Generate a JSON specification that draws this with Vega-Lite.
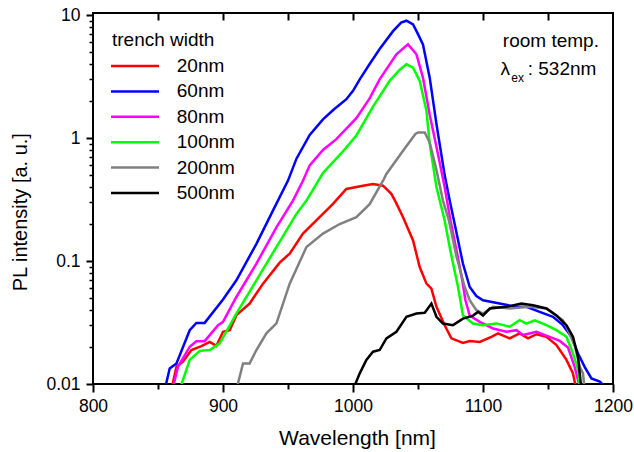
{
"$schema": "https://vega.github.io/schema/vega-lite/v6.json",
"width": 520, "height": 371,
"autosize": "none",
"padding": {"left": 93, "top": 13, "right": 21, "bottom": 68},
"background": "white",
"config": {
  "view": {"stroke": "black", "strokeWidth": 2},
  "font": "Liberation Sans",
  "axis": {"labelFont": "Liberation Sans", "titleFont": "Liberation Sans", "labelColor": "black", "titleColor": "black", "grid": false, "titleFontWeight": "normal"}
},
"resolve": {"axis": {"x": "independent", "y": "independent"}},
"datasets": {
 "pl": [
  {"s":"20nm","wl":860.3,"v":0.009},{"s":"20nm","wl":864.2,"v":0.0138},{"s":"20nm","wl":869.2,"v":0.0152},{"s":"20nm","wl":875.7,"v":0.0189},{"s":"20nm","wl":883.4,"v":0.0203},{"s":"20nm","wl":889.8,"v":0.022},{"s":"20nm","wl":894.9,"v":0.0204},{"s":"20nm","wl":900,"v":0.0266},{"s":"20nm","wl":905.2,"v":0.0274},{"s":"20nm","wl":910.3,"v":0.0363},{"s":"20nm","wl":920.5,"v":0.0451},{"s":"20nm","wl":930.8,"v":0.0655},{"s":"20nm","wl":943.6,"v":0.097},{"s":"20nm","wl":951.3,"v":0.115},{"s":"20nm","wl":961.5,"v":0.167},{"s":"20nm","wl":971.8,"v":0.214},{"s":"20nm","wl":984.6,"v":0.292},{"s":"20nm","wl":994.9,"v":0.386},{"s":"20nm","wl":1007.7,"v":0.41},{"s":"20nm","wl":1015.4,"v":0.423},{"s":"20nm","wl":1023.1,"v":0.41},{"s":"20nm","wl":1029.5,"v":0.352},{"s":"20nm","wl":1033,"v":0.30},{"s":"20nm","wl":1038.5,"v":0.227},{"s":"20nm","wl":1046.2,"v":0.147},{"s":"20nm","wl":1051.3,"v":0.0893},{"s":"20nm","wl":1056.5,"v":0.0655},{"s":"20nm","wl":1060.3,"v":0.0597},{"s":"20nm","wl":1064.2,"v":0.0424},{"s":"20nm","wl":1070.5,"v":0.03},{"s":"20nm","wl":1075.7,"v":0.0235},{"s":"20nm","wl":1084.6,"v":0.0216},{"s":"20nm","wl":1089.8,"v":0.0224},{"s":"20nm","wl":1097.5,"v":0.022},{"s":"20nm","wl":1106.5,"v":0.0242},{"s":"20nm","wl":1111.5,"v":0.0258},{"s":"20nm","wl":1120.5,"v":0.0235},{"s":"20nm","wl":1128.2,"v":0.0258},{"s":"20nm","wl":1134.6,"v":0.0235},{"s":"20nm","wl":1141.1,"v":0.0254},{"s":"20nm","wl":1148.8,"v":0.0242},{"s":"20nm","wl":1156.5,"v":0.0207},{"s":"20nm","wl":1164.2,"v":0.0157},{"s":"20nm","wl":1169.2,"v":0.0122},{"s":"20nm","wl":1171.8,"v":0.009},
  {"s":"60nm","wl":855.2,"v":0.009},{"s":"60nm","wl":859,"v":0.0134},{"s":"60nm","wl":864.2,"v":0.0147},{"s":"60nm","wl":874.4,"v":0.0274},{"s":"60nm","wl":879.5,"v":0.0314},{"s":"60nm","wl":885.9,"v":0.0314},{"s":"60nm","wl":900,"v":0.0486},{"s":"60nm","wl":910.3,"v":0.0697},{"s":"60nm","wl":925.7,"v":0.138},{"s":"60nm","wl":938.5,"v":0.258},{"s":"60nm","wl":950,"v":0.451},{"s":"60nm","wl":956.5,"v":0.68},{"s":"60nm","wl":966.7,"v":1.06},{"s":"60nm","wl":976.9,"v":1.42},{"s":"60nm","wl":985,"v":1.7},{"s":"60nm","wl":994.9,"v":2.07},{"s":"60nm","wl":1000,"v":2.42},{"s":"60nm","wl":1005.2,"v":3.0},{"s":"60nm","wl":1012.8,"v":4.0},{"s":"60nm","wl":1020.5,"v":5.3},{"s":"60nm","wl":1030.8,"v":7.4},{"s":"60nm","wl":1037,"v":8.7},{"s":"60nm","wl":1041.1,"v":9.0},{"s":"60nm","wl":1046.2,"v":8.4},{"s":"60nm","wl":1050,"v":7.0},{"s":"60nm","wl":1053.8,"v":5.78},{"s":"60nm","wl":1059,"v":3.1},{"s":"60nm","wl":1064.2,"v":1.3},{"s":"60nm","wl":1070.5,"v":0.5},{"s":"60nm","wl":1074.4,"v":0.31},{"s":"60nm","wl":1078.2,"v":0.2},{"s":"60nm","wl":1084.6,"v":0.095},{"s":"60nm","wl":1089.8,"v":0.0615},{"s":"60nm","wl":1094.9,"v":0.052},{"s":"60nm","wl":1100,"v":0.048},{"s":"60nm","wl":1112.8,"v":0.0451},{"s":"60nm","wl":1125.7,"v":0.0424},{"s":"60nm","wl":1133.4,"v":0.0424},{"s":"60nm","wl":1143.6,"v":0.0386},{"s":"60nm","wl":1153.8,"v":0.0352},{"s":"60nm","wl":1161.5,"v":0.0301},{"s":"60nm","wl":1168,"v":0.0242},{"s":"60nm","wl":1173.1,"v":0.0177},{"s":"60nm","wl":1178.2,"v":0.0138},{"s":"60nm","wl":1183.4,"v":0.0111},{"s":"60nm","wl":1189.8,"v":0.01045},{"s":"60nm","wl":1194.9,"v":0.0093},
  {"s":"80nm","wl":861.1,"v":0.009},{"s":"80nm","wl":865.4,"v":0.0138},{"s":"80nm","wl":874.4,"v":0.0201},{"s":"80nm","wl":879.5,"v":0.0223},{"s":"80nm","wl":885.9,"v":0.0223},{"s":"80nm","wl":896.2,"v":0.0301},{"s":"80nm","wl":900,"v":0.032},{"s":"80nm","wl":910.3,"v":0.051},{"s":"80nm","wl":925.7,"v":0.0953},{"s":"80nm","wl":941.1,"v":0.188},{"s":"80nm","wl":953.8,"v":0.31},{"s":"80nm","wl":961.5,"v":0.45},{"s":"80nm","wl":966.7,"v":0.6},{"s":"80nm","wl":976.9,"v":0.8},{"s":"80nm","wl":987.2,"v":0.98},{"s":"80nm","wl":1002.6,"v":1.45},{"s":"80nm","wl":1012.8,"v":2.1},{"s":"80nm","wl":1020.5,"v":3.0},{"s":"80nm","wl":1033.4,"v":4.8},{"s":"80nm","wl":1042.3,"v":5.78},{"s":"80nm","wl":1048.8,"v":4.8},{"s":"80nm","wl":1053.8,"v":3.1},{"s":"80nm","wl":1059,"v":1.55},{"s":"80nm","wl":1064.2,"v":0.85},{"s":"80nm","wl":1070.5,"v":0.4},{"s":"80nm","wl":1075,"v":0.214},{"s":"80nm","wl":1080.5,"v":0.11},{"s":"80nm","wl":1084,"v":0.07},{"s":"80nm","wl":1086.5,"v":0.048},{"s":"80nm","wl":1089.8,"v":0.036},{"s":"80nm","wl":1097.5,"v":0.032},{"s":"80nm","wl":1107.7,"v":0.0283},{"s":"80nm","wl":1118,"v":0.0266},{"s":"80nm","wl":1125.7,"v":0.0274},{"s":"80nm","wl":1130.8,"v":0.025},{"s":"80nm","wl":1141.1,"v":0.0266},{"s":"80nm","wl":1151.3,"v":0.0242},{"s":"80nm","wl":1159,"v":0.0224},{"s":"80nm","wl":1165.4,"v":0.0198},{"s":"80nm","wl":1170.5,"v":0.0138},{"s":"80nm","wl":1175,"v":0.009},
  {"s":"100nm","wl":866.7,"v":0.009},{"s":"100nm","wl":874.4,"v":0.0157},{"s":"100nm","wl":882.1,"v":0.0186},{"s":"100nm","wl":889.8,"v":0.0189},{"s":"100nm","wl":897.5,"v":0.0214},{"s":"100nm","wl":910.3,"v":0.0374},{"s":"100nm","wl":925.7,"v":0.0697},{"s":"100nm","wl":941.1,"v":0.13},{"s":"100nm","wl":956.5,"v":0.242},{"s":"100nm","wl":964.2,"v":0.31},{"s":"100nm","wl":976.9,"v":0.52},{"s":"100nm","wl":992.3,"v":0.78},{"s":"100nm","wl":1002.6,"v":1.05},{"s":"100nm","wl":1015.4,"v":1.8},{"s":"100nm","wl":1028.2,"v":2.92},{"s":"100nm","wl":1036,"v":3.6},{"s":"100nm","wl":1041.1,"v":3.98},{"s":"100nm","wl":1046.2,"v":3.74},{"s":"100nm","wl":1051.3,"v":2.92},{"s":"100nm","wl":1056.5,"v":1.67},{"s":"100nm","wl":1059,"v":0.9},{"s":"100nm","wl":1064.2,"v":0.4},{"s":"100nm","wl":1070.5,"v":0.214},{"s":"100nm","wl":1075,"v":0.12},{"s":"100nm","wl":1080.8,"v":0.0615},{"s":"100nm","wl":1084.6,"v":0.036},{"s":"100nm","wl":1092.3,"v":0.031},{"s":"100nm","wl":1100,"v":0.0301},{"s":"100nm","wl":1110.3,"v":0.0311},{"s":"100nm","wl":1120.5,"v":0.0292},{"s":"100nm","wl":1128.2,"v":0.033},{"s":"100nm","wl":1133.4,"v":0.031},{"s":"100nm","wl":1139.8,"v":0.033},{"s":"100nm","wl":1148.8,"v":0.0301},{"s":"100nm","wl":1156.5,"v":0.0274},{"s":"100nm","wl":1164.2,"v":0.0242},{"s":"100nm","wl":1169.2,"v":0.0177},{"s":"100nm","wl":1173.1,"v":0.013},{"s":"100nm","wl":1175,"v":0.009},
  {"s":"200nm","wl":910.3,"v":0.009},{"s":"200nm","wl":915.4,"v":0.0147},{"s":"200nm","wl":920.5,"v":0.0147},{"s":"200nm","wl":925.7,"v":0.0189},{"s":"200nm","wl":933.4,"v":0.0258},{"s":"200nm","wl":941.1,"v":0.0311},{"s":"200nm","wl":951.3,"v":0.0655},{"s":"200nm","wl":964.2,"v":0.13},{"s":"200nm","wl":976.9,"v":0.167},{"s":"200nm","wl":989.8,"v":0.2},{"s":"200nm","wl":1002.6,"v":0.227},{"s":"200nm","wl":1012.8,"v":0.29},{"s":"200nm","wl":1023.1,"v":0.45},{"s":"200nm","wl":1025.7,"v":0.51},{"s":"200nm","wl":1038.5,"v":0.789},{"s":"200nm","wl":1048,"v":1.08},{"s":"200nm","wl":1050,"v":1.11},{"s":"200nm","wl":1055.2,"v":1.11},{"s":"200nm","wl":1059,"v":0.92},{"s":"200nm","wl":1064.2,"v":0.55},{"s":"200nm","wl":1069.2,"v":0.31},{"s":"200nm","wl":1073.8,"v":0.214},{"s":"200nm","wl":1079.5,"v":0.11},{"s":"200nm","wl":1085.9,"v":0.0615},{"s":"200nm","wl":1089.8,"v":0.048},{"s":"200nm","wl":1094.9,"v":0.0398},{"s":"200nm","wl":1100,"v":0.0374},{"s":"200nm","wl":1107.7,"v":0.0424},{"s":"200nm","wl":1120.5,"v":0.0411},{"s":"200nm","wl":1135.9,"v":0.0424},{"s":"200nm","wl":1148.8,"v":0.0411},{"s":"200nm","wl":1161.5,"v":0.033},{"s":"200nm","wl":1164.2,"v":0.0292},{"s":"200nm","wl":1170.5,"v":0.0207},{"s":"200nm","wl":1174.4,"v":0.0138},{"s":"200nm","wl":1176.9,"v":0.0122},{"s":"200nm","wl":1178.2,"v":0.009},
  {"s":"500nm","wl":1000,"v":0.009},{"s":"500nm","wl":1005.2,"v":0.0122},{"s":"500nm","wl":1010.3,"v":0.0157},{"s":"500nm","wl":1015.4,"v":0.0183},{"s":"500nm","wl":1020.5,"v":0.0189},{"s":"500nm","wl":1025.7,"v":0.0235},{"s":"500nm","wl":1033.4,"v":0.0266},{"s":"500nm","wl":1041.1,"v":0.0352},{"s":"500nm","wl":1048.8,"v":0.0374},{"s":"500nm","wl":1055.2,"v":0.0379},{"s":"500nm","wl":1060.3,"v":0.0451},{"s":"500nm","wl":1064.2,"v":0.0352},{"s":"500nm","wl":1069.2,"v":0.031},{"s":"500nm","wl":1076.9,"v":0.0301},{"s":"500nm","wl":1084.6,"v":0.034},{"s":"500nm","wl":1092.3,"v":0.036},{"s":"500nm","wl":1096.2,"v":0.0386},{"s":"500nm","wl":1100,"v":0.036},{"s":"500nm","wl":1105.2,"v":0.0411},{"s":"500nm","wl":1118,"v":0.0424},{"s":"500nm","wl":1129.5,"v":0.0451},{"s":"500nm","wl":1138.5,"v":0.0437},{"s":"500nm","wl":1148.8,"v":0.0411},{"s":"500nm","wl":1156.5,"v":0.036},{"s":"500nm","wl":1164.2,"v":0.0301},{"s":"500nm","wl":1169.2,"v":0.0242},{"s":"500nm","wl":1173.1,"v":0.0167},{"s":"500nm","wl":1175.7,"v":0.009}
 ]
},
"layer": [
 {
  "data": {"name": "pl"},
  "mark": {"type": "line", "strokeWidth": 2.5, "clip": true},
  "encoding": {
   "x": {"field": "wl", "type": "quantitative", "scale": {"domain": [800, 1200], "nice": false, "zero": false},
     "axis": {"orient": "bottom", "values": [800, 900, 1000, 1100, 1200], "format": "d", "domain": false, "tickColor": "#000000", "tickWidth": 2, "tickSize": 8, "labelPadding": 5, "labelFontSize": 17.5, "labelFlush": false, "title": "Wavelength [nm]", "titleFontSize": 21, "titleX": 264, "titleY": 60.3, "titleBaseline": "alphabetic", "titleAlign": "center"}},
   "y": {"field": "v", "type": "quantitative", "scale": {"type": "log", "domain": [0.01, 10.4], "nice": false},
     "axis": {"orient": "left", "values": [0.01, 0.1, 1, 10], "format": "~g", "domain": false, "tickColor": "#000000", "tickWidth": 2, "tickSize": 7, "labelPadding": 6, "labelFontSize": 17.5, "labelFlush": false, "title": "PL intensity [a. u.]", "titleFontSize": 20, "titleX": -67, "titleY": 198.7, "titleAngle": -90, "titleBaseline": "alphabetic", "titleAlign": "center"}},
   "color": {"field": "s", "type": "nominal",
     "scale": {"domain": ["20nm", "60nm", "80nm", "100nm", "200nm", "500nm"], "range": ["#ff0000", "#0000ff", "#ff00ff", "#00ff00", "#808080", "#000000"]},
     "legend": {"orient": "none", "legendX": 19, "legendY": 18, "title": "trench width", "titleFontSize": 19, "titleFontWeight": "normal", "titleColor": "black", "titleFont": "Liberation Sans", "titlePadding": 6.5,
       "labelFontSize": 19, "labelColor": "black", "labelFont": "Liberation Sans",
       "symbolType": "M-4,0H4", "symbolSize": 144, "symbolStrokeWidth": 2.5, "symbolOffset": 13.5, "labelOffset": 32.3, "rowPadding": 5.4, "padding": 0}}
  }
 },
 {
  "data": {"name": "pl"},
  "mark": {"type": "point", "opacity": 0},
  "encoding": {
   "x": {"field": "wl", "type": "quantitative", "scale": {"domain": [800, 1200], "nice": false, "zero": false},
     "axis": {"orient": "bottom", "values": [850, 950, 1050, 1150], "domain": false, "tickColor": "#000000", "tickWidth": 2, "tickSize": 5, "labels": false, "title": null}},
   "y": {"field": "v", "type": "quantitative", "scale": {"type": "log", "domain": [0.01, 10.4], "nice": false},
     "axis": {"orient": "left", "values": [0.02,0.03,0.04,0.05,0.06,0.07,0.08,0.09,0.2,0.3,0.4,0.5,0.6,0.7,0.8,0.9,2,3,4,5,6,7,8,9], "domain": false, "tickColor": "#000000", "tickWidth": 1.5, "tickSize": 4, "labels": false, "title": null}}
  }
 },
 {
  "data": {"name": "pl"},
  "mark": {"type": "point", "opacity": 0},
  "encoding": {
   "x": {"field": "wl", "type": "quantitative", "scale": {"domain": [800, 1200], "nice": false, "zero": false},
     "axis": {"orient": "top", "values": [850, 900, 950, 1000, 1050, 1100, 1150], "domain": false, "tickColor": "#000000", "tickWidth": 2, "tickSize": -7, "labels": false, "title": null}},
   "y": {"field": "v", "type": "quantitative", "scale": {"type": "log", "domain": [0.01, 10.4], "nice": false}, "axis": null}
  }
 },
 {
  "data": {"values": [{"x": 1189.2, "y": 5.53, "t": "room temp."}, {"x": 1187.2, "y": 3.26, "t": ": 532nm"}]},
  "mark": {"type": "text", "align": "right", "baseline": "alphabetic", "fontSize": 19, "font": "Liberation Sans", "color": "black"},
  "encoding": {
   "x": {"field": "x", "type": "quantitative", "scale": {"domain": [800, 1200], "nice": false, "zero": false}, "axis": null},
   "y": {"field": "y", "type": "quantitative", "scale": {"type": "log", "domain": [0.01, 10.4], "nice": false}, "axis": null},
   "text": {"field": "t"}
  }
 },
 {
  "data": {"values": [{"x": 1113.4, "y": 3.26, "t": "λ"}]},
  "mark": {"type": "text", "align": "left", "baseline": "alphabetic", "fontSize": 19, "font": "Liberation Sans", "color": "black"},
  "encoding": {
   "x": {"field": "x", "type": "quantitative", "scale": {"domain": [800, 1200], "nice": false, "zero": false}, "axis": null},
   "y": {"field": "y", "type": "quantitative", "scale": {"type": "log", "domain": [0.01, 10.4], "nice": false}, "axis": null},
   "text": {"field": "t"}
  }
 },
 {
  "data": {"values": [{"x": 1121.8, "y": 2.87, "t": "ex"}]},
  "mark": {"type": "text", "align": "left", "baseline": "alphabetic", "fontSize": 12, "font": "Liberation Sans", "color": "black"},
  "encoding": {
   "x": {"field": "x", "type": "quantitative", "scale": {"domain": [800, 1200], "nice": false, "zero": false}, "axis": null},
   "y": {"field": "y", "type": "quantitative", "scale": {"type": "log", "domain": [0.01, 10.4], "nice": false}, "axis": null},
   "text": {"field": "t"}
  }
 }
]
}
